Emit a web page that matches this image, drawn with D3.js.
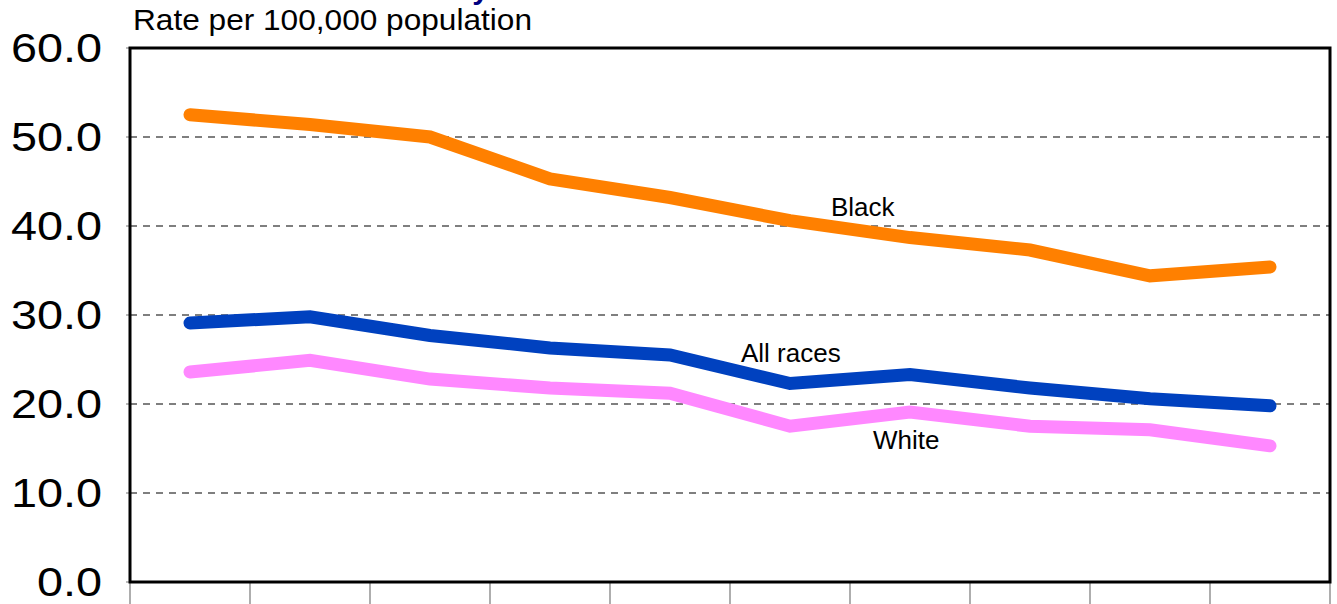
<!DOCTYPE html>
<html>
<head>
<meta charset="utf-8">
<script src="https://cdn.jsdelivr.net/npm/d3@7"></script>
<style>
  html, body { margin: 0; padding: 0; background: #fff; overflow: hidden; }
  svg { display: block; font-family: "Liberation Sans", Arial, sans-serif; }
</style>
</head>
<body>
<svg id="chart" width="1337" height="604"></svg>
<script>
// ---- data ----
const categories = ["1990","1991","1992","1993","1994","1995","1996","1997","1998","1999"];
const black    = [52.5, 51.4, 50.0, 45.3, 43.2, 40.6, 38.7, 37.3, 34.4, 35.4];
const allRaces = [29.1, 29.8, 27.7, 26.3, 25.5, 22.3, 23.3, 21.8, 20.6, 19.8];
const white    = [23.6, 24.9, 22.8, 21.8, 21.2, 17.5, 19.1, 17.5, 17.1, 15.3];
const yTicks   = [0, 10, 20, 30, 40, 50, 60];
const seriesNames = ["Black", "All races", "White"];

// ---- layout ----
const svg = d3.select("#chart");
const L = 130, R = 1330, T = 48, B = 582;
const x = d3.scaleBand().domain(categories).range([L, R]).padding(0);
const y = d3.scaleLinear().domain([0, 60]).range([B, T]);
const cx = c => x(c) + x.bandwidth() / 2;

// title (cut off at top, as in the reference)
svg.append("text")
  .attr("x", 489).attr("y", -1)
  .attr("text-anchor", "end")
  .attr("font-size", 30).attr("font-weight", "bold")
  .attr("fill", "#000080")
  .text("Homicide victimization rates by");

// axis title
svg.append("text")
  .attr("x", 133).attr("y", 30)
  .attr("font-size", 29)
  .attr("textLength", 399).attr("lengthAdjust", "spacingAndGlyphs")
  .attr("fill", "#000")
  .text("Rate per 100,000 population");

// gridlines
svg.append("g").selectAll("line")
  .data(yTicks.filter(v => v > 0 && v < 60))
  .join("line")
  .attr("x1", L).attr("x2", R)
  .attr("y1", d => y(d)).attr("y2", d => y(d))
  .attr("stroke", "#555").attr("stroke-width", 1.3)
  .attr("stroke-dasharray", "7,6");

// small y ticks left of axis
svg.append("g").selectAll("line")
  .data(yTicks)
  .join("line")
  .attr("x1", L - 4).attr("x2", L)
  .attr("y1", d => y(d)).attr("y2", d => y(d))
  .attr("stroke", "#777").attr("stroke-width", 1);

// y labels (horizontally widened like the reference)
svg.append("g").selectAll("text")
  .data(yTicks)
  .join("text")
  .attr("transform", d => `translate(102,${y(d) + 14}) scale(1.17,1)`)
  .attr("text-anchor", "end")
  .attr("font-size", 40)
  .attr("fill", "#000")
  .text(d => d3.format(".1f")(d));

// x ticks at band boundaries
const bounds = categories.map(c => x(c)).concat([x(categories[categories.length - 1]) + x.bandwidth()]);
svg.append("g").selectAll("line")
  .data(bounds)
  .join("line")
  .attr("x1", d => d).attr("x2", d => d)
  .attr("y1", B).attr("y2", 604)
  .attr("stroke", "#777").attr("stroke-width", 1.2);

// plot frame
svg.append("rect")
  .attr("x", L).attr("y", T)
  .attr("width", R - L).attr("height", B - T)
  .attr("fill", "none").attr("stroke", "#000").attr("stroke-width", 3);

// lines
const line = d3.line().x((d, i) => cx(categories[i])).y(d => y(d));
const series = [
  { name: "Black", values: black, color: "#FF8000" },
  { name: "All races", values: allRaces, color: "#0041BF" },
  { name: "White", values: white, color: "#FF88FF" }
];
[series[2], series[1], series[0]].forEach(s => {
  svg.append("path")
    .datum(s.values)
    .attr("d", line)
    .attr("fill", "none")
    .attr("stroke", s.color)
    .attr("stroke-width", 13)
    .attr("stroke-linecap", "round")
    .attr("stroke-linejoin", "miter");
});

// series labels
const labelPos = [
  { name: seriesNames[0], x: 831, y: 216 },
  { name: seriesNames[1], x: 741, y: 362 },
  { name: seriesNames[2], x: 873, y: 449 }
];
svg.append("g").selectAll("text")
  .data(labelPos)
  .join("text")
  .attr("x", d => d.x).attr("y", d => d.y)
  .attr("font-size", 26)
  .attr("fill", "#000")
  .text(d => d.name);
</script>
</body>
</html>
